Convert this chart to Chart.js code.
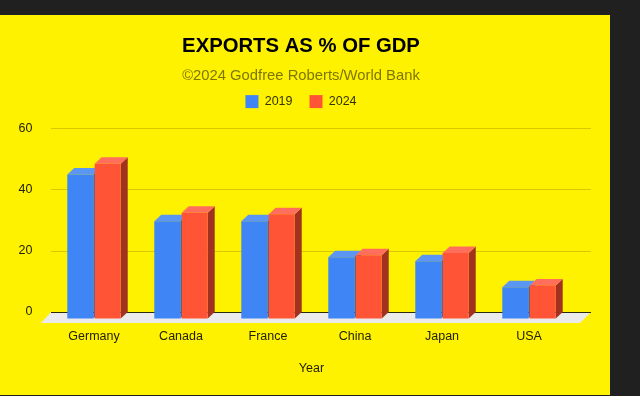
<!DOCTYPE html>
<html>
<head>
<meta charset="utf-8">
<title>Exports as % of GDP</title>
<script src="https://cdn.jsdelivr.net/npm/chart.js@4"></script>
<style>
  html, body { margin: 0; width: 640px; height: 396px; overflow: hidden; background: #202020; }
  #panel { position: absolute; left: 0; top: 15px; width: 610px; height: 380px; background: #fff200; }
  #chartBox { position: absolute; left: 0; top: 0; width: 602px; height: 396px; }
</style>
</head>
<body>
<div id="panel"></div>
<div id="chartBox"><canvas id="exportsChart"></canvas></div>
<script>
const categories = ["Germany", "Canada", "France", "China", "Japan", "USA"];
const values2019 = [47, 31.7, 31.7, 20, 18.7, 10.2];
const values2024 = [50.5, 34.5, 34, 20.6, 21.4, 10.8];
const seriesNames = ["2019", "2024"];
const yTicks = [0, 20, 40, 60];

// depth of the fake 3D, in pixels
const depthX = 7;
const depthY = 6.5;

const faceColors = {
  "2019": { top: "#5a96f2", side: "#2c62b0" },
  "2024": { top: "#ff6f5c", side: "#a0321f" },
};

const wallAndFloor = {
  id: "wallAndFloor",
  beforeInit(chart) {
    // leave a gap under the legend
    const originalFit = chart.legend.fit;
    chart.legend.fit = function () {
      originalFit.call(this);
      this.height += 10;
    };
  },
  beforeDatasetsDraw(chart) {
    const { ctx, scales } = chart;
    const y = scales.y;
    const wallLeft = 51;
    const wallRight = 591;
    const zeroY = y.getPixelForValue(0);

    ctx.save();
    // floor
    ctx.fillStyle = "#ebebeb";
    ctx.beginPath();
    ctx.moveTo(wallLeft, zeroY);
    ctx.lineTo(wallRight, zeroY);
    ctx.lineTo(580, zeroY + 11);
    ctx.lineTo(41, zeroY + 11);
    ctx.closePath();
    ctx.fill();
    // grid on the back wall
    for (const tick of yTicks) {
      const py = Math.round(y.getPixelForValue(tick)) + 0.5;
      ctx.strokeStyle = tick === 0 ? "#2a2a10" : "#d9c900";
      ctx.lineWidth = 1;
      ctx.beginPath();
      ctx.moveTo(wallLeft, py);
      ctx.lineTo(wallRight, py);
      ctx.stroke();
    }
    // top and side faces, 2019 first so 2024 overlaps it
    ctx.translate(0, depthY);
    chart.data.datasets.forEach((dataset, index) => {
      const colors = faceColors[dataset.label];
      for (const bar of chart.getDatasetMeta(index).data) {
        const right = bar.x + bar.width / 2;
        const left = bar.x - bar.width / 2;
        ctx.fillStyle = colors.side;
        ctx.beginPath();
        ctx.moveTo(right, bar.y);
        ctx.lineTo(right + depthX, bar.y - depthY);
        ctx.lineTo(right + depthX, bar.base - depthY);
        ctx.lineTo(right, bar.base);
        ctx.closePath();
        ctx.fill();
        ctx.fillStyle = colors.top;
        ctx.beginPath();
        ctx.moveTo(left, bar.y);
        ctx.lineTo(left + depthX, bar.y - depthY);
        ctx.lineTo(right + depthX, bar.y - depthY);
        ctx.lineTo(right, bar.y);
        ctx.closePath();
        ctx.fill();
      }
    });
    ctx.restore();
  },
  // the bars stand in front of the wall, so shift them down onto the floor
  beforeDatasetDraw(chart) {
    chart.ctx.save();
    chart.ctx.translate(0, depthY);
  },
  afterDatasetDraw(chart) {
    chart.ctx.restore();
  },
};

new Chart(document.getElementById("exportsChart"), {
  type: "bar",
  data: {
    labels: categories,
    datasets: [
      { label: seriesNames[0], data: values2019, backgroundColor: "#3f85f5", clip: false },
      { label: seriesNames[1], data: values2024, backgroundColor: "#ff5436", clip: false },
    ],
  },
  options: {
    responsive: true,
    maintainAspectRatio: false,
    animation: false,
    events: [],
    layout: { padding: { top: 34, right: 0, bottom: 20, left: 0 } },
    datasets: { bar: { categoryPercentage: 0.63, barPercentage: 0.95 } },
    plugins: {
      tooltip: { enabled: false },
      title: {
        display: true,
        text: "EXPORTS AS % OF GDP",
        color: "#000000",
        font: { family: "Liberation Sans", size: 20.3, weight: "bold" },
        padding: { top: 0, bottom: 9 },
      },
      subtitle: {
        display: true,
        text: "©2024 Godfree Roberts/World Bank",
        color: "#7d7600",
        font: { family: "Liberation Sans", size: 14.8 },
        padding: { top: 0, bottom: -7 },
      },
      legend: {
        position: "top",
        labels: {
          color: "#333300",
          font: { family: "Liberation Sans", size: 12.5 },
          boxWidth: 13,
          boxHeight: 13,
          padding: 17,
        },
      },
    },
    scales: {
      x: {
        grid: { display: false },
        border: { display: false },
        ticks: { color: "#222200", font: { family: "Liberation Sans", size: 12.5 }, padding: 9, maxRotation: 0 },
        title: {
          display: true,
          text: "Year",
          color: "#222200",
          font: { family: "Liberation Sans", size: 12.5 },
          padding: { top: 8, bottom: 0 },
        },
      },
      y: {
        min: 0,
        max: 60,
        afterFit(scale) { scale.width = 50.5; },
        afterBuildTicks(scale) { scale.ticks = yTicks.map((value) => ({ value })); },
        grid: { display: false },
        border: { display: false },
        ticks: { color: "#222200", font: { family: "Liberation Sans", size: 12.5 }, padding: 10 },
      },
      // empty axis, only keeps the plot narrower than the title block
      rightGap: {
        position: "right",
        afterFit(scale) { scale.width = 29.5; },
        grid: { display: false },
        border: { display: false },
        ticks: { display: false },
      },
    },
  },
  plugins: [wallAndFloor],
});
</script>
</body>
</html>
